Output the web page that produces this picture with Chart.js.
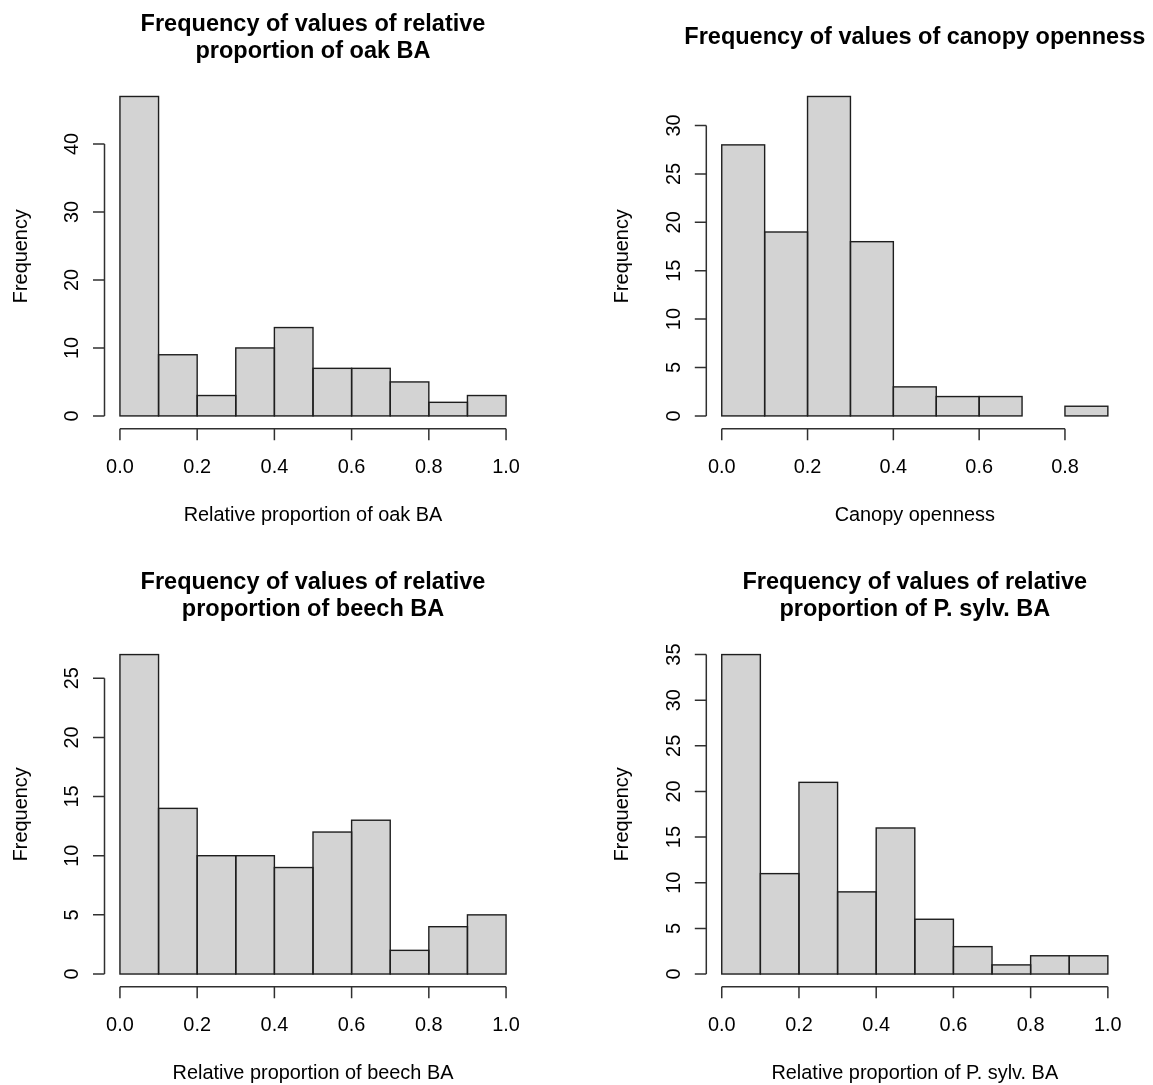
<!DOCTYPE html>
<html lang="en">
<head>
    <meta charset="UTF-8">
    <title>Histograms of stand variables</title>
    <script src="https://cdn.jsdelivr.net/npm/chart.js"></script>
    <style>
        body {
            margin: 0;
            background: #ffffff;
            width: 1153px;
            height: 1085px;
            overflow: hidden;
        }
        canvas {
            position: absolute;
        }
    </style>
</head>
<body>

    <canvas id="oakChart"></canvas>
    <canvas id="canopyChart"></canvas>
    <canvas id="beechChart"></canvas>
    <canvas id="pinusChart"></canvas>

    <script>
        // bin edges (R hist breaks)
        const propEdges = [0.0, 0.1, 0.2, 0.3, 0.4, 0.5, 0.6, 0.7, 0.8, 0.9, 1.0];
        const canopyEdges = [0.0, 0.1, 0.2, 0.3, 0.4, 0.5, 0.6, 0.7, 0.8, 0.9];

        // counts
        const oakCounts = [47, 9, 3, 10, 13, 7, 7, 5, 2, 3];
        const canopyCounts = [28, 19, 33, 18, 3, 2, 2, 0, 1];
        const beechCounts = [27, 14, 10, 10, 9, 12, 13, 2, 4, 5];
        const pinusCounts = [35, 11, 21, 9, 16, 6, 3, 1, 2, 2];

        // tick labels
        const propTicks = [0.0, 0.2, 0.4, 0.6, 0.8, 1.0];
        const canopyTicks = [0.0, 0.2, 0.4, 0.6, 0.8];
        const oakFreqTicks = [0, 10, 20, 30, 40];
        const canopyFreqTicks = [0, 5, 10, 15, 20, 25, 30];
        const beechFreqTicks = [0, 5, 10, 15, 20, 25];
        const pinusFreqTicks = [0, 5, 10, 15, 20, 25, 30, 35];

        const FONT = '"Liberation Sans", Arial, Helvetica, sans-serif';
        const PLOT_W = 417, PLOT_H = 345;

        // draws the R-style outlines, axes and labels
        const rStyle = {
            id: 'rStyle',
            afterDatasetsDraw(chart) {
                const ctx = chart.ctx;
                ctx.save();
                ctx.strokeStyle = '#1e1e1e';
                ctx.lineWidth = 1.4;
                chart.getDatasetMeta(0).data.forEach(bar => {
                    const p = bar.getProps(['x', 'y', 'base', 'width'], true);
                    if (Math.abs(p.base - p.y) < 0.5) return;
                    ctx.strokeRect(p.x - p.width / 2, p.y, p.width, p.base - p.y);
                });
                ctx.restore();
            },
            afterDraw(chart, args, opts) {
                const { ctx, chartArea: a, scales: { x, y } } = chart;
                const xt = x.ticks.map(t => t.value);
                const yt = y.ticks.map(t => t.value);
                ctx.save();
                ctx.strokeStyle = '#303030';
                ctx.lineWidth = 1.5;
                ctx.beginPath();
                // x axis
                ctx.moveTo(x.getPixelForValue(xt[0]), a.bottom);
                ctx.lineTo(x.getPixelForValue(xt[xt.length - 1]), a.bottom);
                xt.forEach(v => {
                    const px = x.getPixelForValue(v);
                    ctx.moveTo(px, a.bottom);
                    ctx.lineTo(px, a.bottom + 11.5);
                });
                // y axis
                ctx.moveTo(a.left, y.getPixelForValue(yt[0]));
                ctx.lineTo(a.left, y.getPixelForValue(yt[yt.length - 1]));
                yt.forEach(v => {
                    const py = y.getPixelForValue(v);
                    ctx.moveTo(a.left, py);
                    ctx.lineTo(a.left - 11.5, py);
                });
                ctx.stroke();

                ctx.fillStyle = '#000000';
                ctx.textAlign = 'center';
                ctx.textBaseline = 'alphabetic';
                ctx.font = '19.9px ' + FONT;
                xt.forEach(v => ctx.fillText(v.toFixed(1), x.getPixelForValue(v), a.bottom + 44));
                ctx.fillText(opts.xTitle, (a.left + a.right) / 2, a.bottom + 92.3);

                yt.forEach(v => {
                    ctx.save();
                    ctx.translate(a.left - 26.5, y.getPixelForValue(v));
                    ctx.rotate(-Math.PI / 2);
                    ctx.fillText(String(v), 0, 0);
                    ctx.restore();
                });
                ctx.save();
                ctx.translate(a.left - 78, (a.top + a.bottom) / 2);
                ctx.rotate(-Math.PI / 2);
                ctx.fillText('Frequency', 0, 0);
                ctx.restore();

                ctx.font = 'bold 23.5px ' + FONT;
                const mid = a.top - 39.45;
                const n = opts.title.length;
                opts.title.forEach((line, i) => {
                    ctx.fillText(line, (a.left + a.right) / 2, mid + (i - (n - 1) / 2) * 26.5);
                });
                ctx.restore();
            }
        };

        function makeHist(id, box, plot, edges, counts, xTicks, yTicks, title, xTitle) {
            const canvas = document.getElementById(id);
            canvas.width = box.w;
            canvas.height = box.h;
            canvas.style.left = box.x + 'px';
            canvas.style.top = box.y + 'px';

            // R extends both axes by 4% of the data range
            const x0 = edges[0], x1 = edges[edges.length - 1];
            const ymax = Math.max(...counts);
            const dx = (x1 - x0) * 0.04, dy = ymax * 0.04;

            new Chart(canvas, {
                type: 'bar',
                data: {
                    datasets: [{
                        data: counts.map((c, i) => ({ x: (edges[i] + edges[i + 1]) / 2, y: c })),
                        backgroundColor: '#D3D3D3',
                        borderWidth: 0,
                        inflateAmount: 0,
                        barPercentage: 1.0,
                        categoryPercentage: 1.0
                    }]
                },
                options: {
                    responsive: false,
                    animation: false,
                    events: [],
                    layout: {
                        padding: {
                            left: plot.x - box.x,
                            top: plot.y - box.y,
                            right: box.x + box.w - (plot.x + PLOT_W),
                            bottom: box.y + box.h - (plot.y + PLOT_H)
                        }
                    },
                    plugins: {
                        legend: { display: false },
                        tooltip: { enabled: false },
                        rStyle: { title: title, xTitle: xTitle }
                    },
                    scales: {
                        x: {
                            type: 'linear',
                            min: x0 - dx,
                            max: x1 + dx,
                            offset: false,
                            display: false,
                            afterBuildTicks: s => { s.ticks = xTicks.map(v => ({ value: v })); }
                        },
                        y: {
                            min: -dy,
                            max: ymax + dy,
                            display: false,
                            afterBuildTicks: s => { s.ticks = yTicks.map(v => ({ value: v })); }
                        }
                    }
                },
                plugins: [rStyle]
            });
        }

        makeHist('oakChart', { x: 0, y: 0, w: 577, h: 545 }, { x: 104.5, y: 83.7 },
            propEdges, oakCounts, propTicks, oakFreqTicks,
            ['Frequency of values of relative', 'proportion of oak BA'], 'Relative proportion of oak BA');
        makeHist('canopyChart', { x: 577, y: 0, w: 576, h: 545 }, { x: 706.3, y: 83.7 },
            canopyEdges, canopyCounts, canopyTicks, canopyFreqTicks,
            ['Frequency of values of canopy openness'], 'Canopy openness');
        makeHist('beechChart', { x: 0, y: 545, w: 577, h: 540 }, { x: 104.5, y: 641.8 },
            propEdges, beechCounts, propTicks, beechFreqTicks,
            ['Frequency of values of relative', 'proportion of beech BA'], 'Relative proportion of beech BA');
        makeHist('pinusChart', { x: 577, y: 545, w: 576, h: 540 }, { x: 706.3, y: 641.8 },
            propEdges, pinusCounts, propTicks, pinusFreqTicks,
            ['Frequency of values of relative', 'proportion of P. sylv. BA'], 'Relative proportion of P. sylv. BA');
    </script>

</body>
</html>
